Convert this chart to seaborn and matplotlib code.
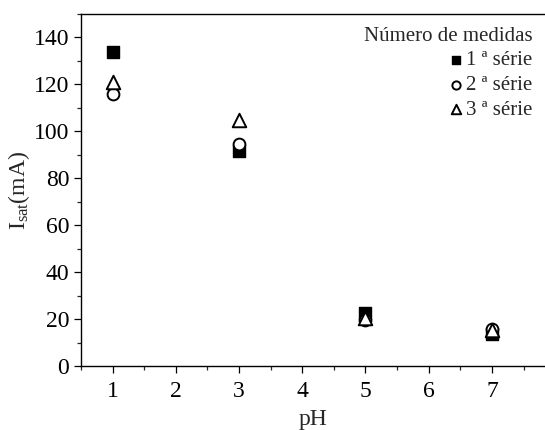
import matplotlib
matplotlib.use("Agg")
import matplotlib.pyplot as plt
from matplotlib.ticker import MultipleLocator
import seaborn as sns
import pandas as pd

ph = [1, 3, 5, 7]
serie1 = [134, 91.5, 22.5, 13.8]
serie2 = [116, 94.8, 19.5, 15.8]
serie3 = [121, 104.7, 20.3, 15.4]
labels = ["1 ª série", "2 ª série", "3 ª série"]

sns.set_theme(style="ticks")
plt.rcParams["font.family"] = ["Liberation Serif", "DejaVu Serif"]
plt.rcParams["mathtext.default"] = "regular"

fig = plt.figure(figsize=(5.45, 4.3), dpi=100)
ax = fig.add_axes([0.1486, 0.1488, 0.8514, 0.8186])

styles = [
    dict(marker="s", s=80, facecolor="black", edgecolor="black", linewidth=1.0),
    dict(marker="o", s=72, facecolor="white", edgecolor="black", linewidth=1.4),
    dict(marker="^", s=95, facecolor="white", edgecolor="black", linewidth=1.4),
]
for vals, lab, st in zip([serie1, serie2, serie3], labels, styles):
    df = pd.DataFrame({"pH": ph, "I": vals})
    sns.scatterplot(data=df, x="pH", y="I", ax=ax, label=lab, zorder=3, **st)

ax.set_xlim(0.5, 7.84)
ax.set_ylim(0, 150)
ax.xaxis.set_major_locator(MultipleLocator(1))
ax.xaxis.set_minor_locator(MultipleLocator(0.5))
ax.yaxis.set_major_locator(MultipleLocator(20))
ax.yaxis.set_minor_locator(MultipleLocator(10))
ax.tick_params(which="major", direction="out", length=5, width=0.9, labelsize=17, colors="black")
ax.tick_params(axis="x", which="major", pad=6)
ax.tick_params(which="minor", direction="out", length=3, width=0.9)
for side in ["left", "bottom", "top"]:
    ax.spines[side].set_linewidth(1.0)
    ax.spines[side].set_color("black")
ax.spines["right"].set_visible(False)

ax.set_xlabel("pH", fontsize=17, labelpad=5)
ax.set_ylabel(r"I$_{sat}$(mA)", fontsize=17, labelpad=1)

leg = ax.legend(title="Número de medidas", loc="upper right", frameon=False,
                fontsize=15, title_fontsize=15, alignment="right",
                handletextpad=0.05, labelspacing=0.25, borderaxespad=0.2,
                handlelength=0.9, markerscale=0.7)

fig.savefig("out.png", dpi=100)
